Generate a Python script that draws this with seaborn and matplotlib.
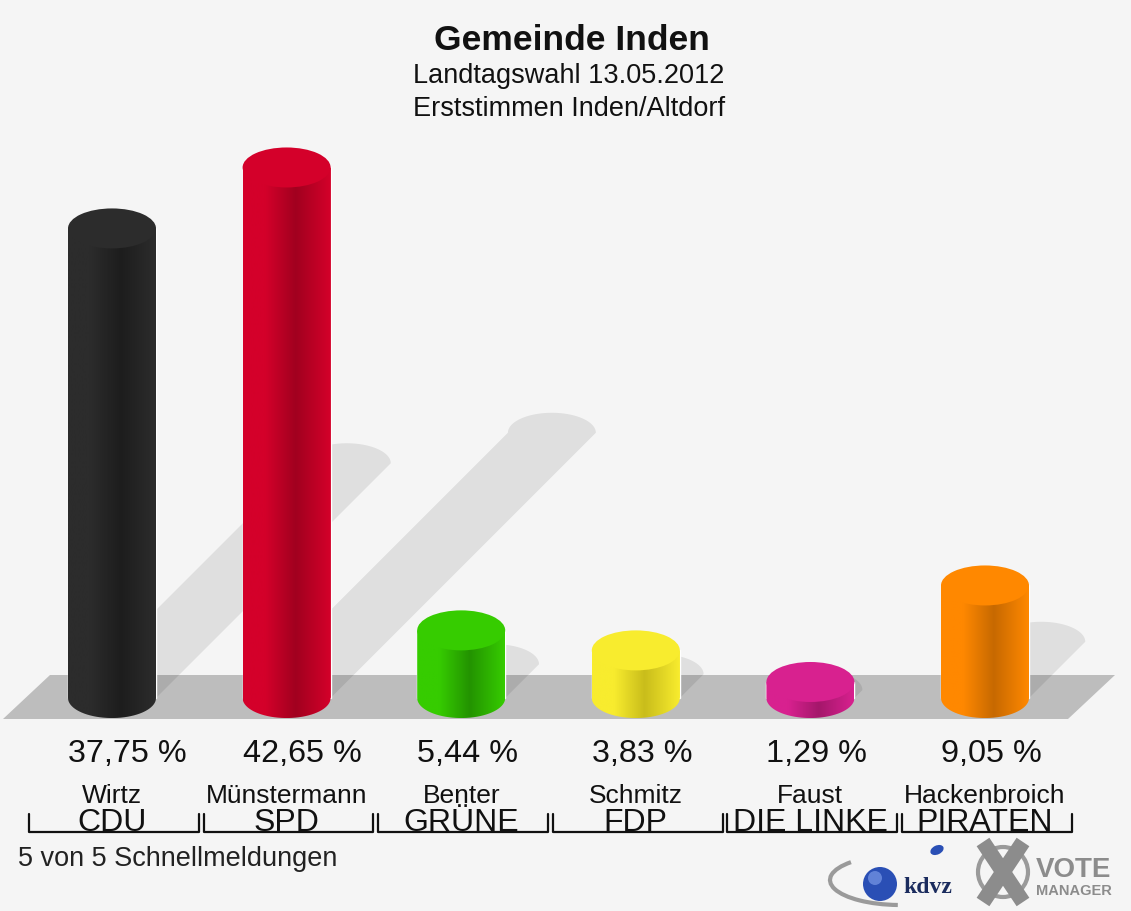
import matplotlib
matplotlib.use("Agg")
import matplotlib.pyplot as plt
import matplotlib.transforms as mtransforms
import numpy as np
import seaborn as sns
from matplotlib.colors import LinearSegmentedColormap
from matplotlib.patches import Polygon, Ellipse, PathPatch, Circle, Arc
from matplotlib.path import Path

# data
parties = ["CDU", "SPD", "GRÜNE", "FDP", "DIE LINKE", "PIRATEN"]
candidates = ["Wirtz", "Münstermann", "Benter", "Schmitz", "Faust", "Hackenbroich"]
shares = [37.75, 42.65, 5.44, 3.83, 1.29, 9.05]
colors = ["#2c2c2c", "#d4002a", "#36cc00", "#f8ec2e", "#d8218f", "#ff8800"]
shades = ["#1d1d1d", "#a1001f", "#239300", "#c9bd1b", "#a4176b", "#c76900"]

title = "Gemeinde Inden"
subtitle = ["Landtagswahl 13.05.2012", "Erststimmen Inden/Altdorf"]
footer = "5 von 5 Schnellmeldungen"

sns.set_theme(style="white")
plt.rcParams['font.family'] = ['Liberation Sans', 'DejaVu Sans']

W, H = 1131, 911
bg_color = "#f5f5f5"
fig = plt.figure(figsize=(W / 100, H / 100), dpi=100, facecolor=bg_color)

# background layer in pixel coordinates (floor, texts, logo)
bg = fig.add_axes([0, 0, 1, 1], zorder=0)
bg.set_xlim(0, W)
bg.set_ylim(H, 0)
bg.axis("off")
bg.add_patch(Polygon([(3, 719), (50, 675), (1115, 675), (1068, 719)], closed=True,
                     facecolor="#bdbdbd", edgecolor="none"))

# chart layer
ymin, ymax = -4, 46
ax = fig.add_axes([24.7 / W, 1 - 747.8 / H, 1047.6 / W, 622 / H], zorder=1)
ax.patch.set_alpha(0)
sns.barplot(x=parties, y=shares, hue=parties, palette=colors, legend=False,
            width=0.504, saturation=1, ax=ax, zorder=2)
ax.set_xlim(-0.5, len(parties) - 0.5)
ax.set_ylim(ymin, ymax)
ax.axis("off")

px_x = 1047.6 / len(parties)
px_y = 622 / (ymax - ymin)
r = 20 / px_y  # cap half height in data units

t_top = np.linspace(0, np.pi, 40)
t_bot = np.linspace(np.pi, 2 * np.pi, 40)

trans = mtransforms.blended_transform_factory(ax.transData, bg.transData)

for p, base, dark, val in zip(ax.patches, colors, shades, shares):
    x0, w, h = p.get_x(), p.get_width(), p.get_height()
    cx = x0 + w / 2

    # shadow stripe going up-right
    sh = h / 2
    d = sh * px_y / px_x
    arc = np.column_stack([cx + d + w / 2 * np.cos(t_top), sh + r * np.sin(t_top)])
    pts = np.vstack([[x0, 0], [x0 + w, 0], arc, [x0 + d, sh]])
    ax.add_patch(Polygon(pts, closed=True, facecolor="black", alpha=0.085,
                         edgecolor="none", zorder=1, clip_on=False))

    # cylinder body with shading
    bottom = np.column_stack([cx + w / 2 * np.cos(t_bot), r * np.sin(t_bot)])
    body = np.vstack([[x0, h], [x0, 0], bottom, [x0 + w, h], [x0, h]])
    clip = PathPatch(Path(body), transform=ax.transData, facecolor="none", edgecolor="none")
    ax.add_patch(clip)
    cmap = LinearSegmentedColormap.from_list("c", [(0, base), (0.25, base), (0.6, dark), (1, base)])
    im = ax.imshow(np.linspace(0, 1, 200)[None, :], extent=(x0, x0 + w, -r, h),
                   aspect="auto", cmap=cmap, zorder=3, interpolation="bilinear")
    im.set_clip_path(clip)

    # top cap
    ax.add_patch(Ellipse((cx, h), w, 2 * r, facecolor=base, edgecolor="none", zorder=4))

    # value label, aligned with the bar's left edge
    lab = f"{val:.2f} %".replace(".", ",")
    bg.text(x0, 762, lab, transform=trans, ha="left", va="baseline",
            fontsize=23.3, color="#111111")

ax.set_xlim(-0.5, len(parties) - 0.5)
ax.set_ylim(ymin, ymax)

# names and party brackets
for i, (party, cand) in enumerate(zip(parties, candidates)):
    bg.text(i, 803, cand, transform=trans, ha="center", va="baseline",
            fontsize=19, color="#111111")
    bg.text(i, 831, party, transform=trans, ha="center", va="baseline",
            fontsize=23, color="#111111")
    bg.plot([i - 0.475, i - 0.475, i + 0.497, i + 0.497], [814, 832, 832, 814],
            transform=trans, color="#111111", lw=1.6, clip_on=False)

# titles
bg.text(572, 50, title, ha="center", va="baseline", fontsize=25.5, fontweight="bold", color="#111111")
bg.text(569, 83, subtitle[0], ha="center", va="baseline", fontsize=19.5, color="#111111")
bg.text(569, 116, subtitle[1], ha="center", va="baseline", fontsize=19.5, color="#111111")
bg.text(18, 866, footer, ha="left", va="baseline", fontsize=19.5, color="#222222")

# logo
bg.add_patch(Arc((900, 880), 140, 50, theta1=95, theta2=200, color="#9a9a9a", lw=3))
bg.add_patch(Ellipse((937, 850), 14, 9, angle=-25, facecolor="#2a4fb5", edgecolor="none"))
bg.add_patch(Circle((880, 884), 17, facecolor="#2a4fb5", edgecolor="none"))
bg.add_patch(Circle((875, 878), 7, facecolor="#6f8fe0", edgecolor="none", alpha=0.8))
bg.text(903, 893, "kdvz", ha="left", va="baseline", fontsize=17, fontweight="bold",
        family=["Liberation Serif", "DejaVu Serif"], color="#1b2c5e")
bg.add_patch(Circle((1003, 872), 25, facecolor="none", edgecolor="#9a9a9a", lw=3))
bg.plot([983, 1023], [842, 902], color="#8c8c8c", lw=11, solid_capstyle="butt")
bg.plot([1023, 983], [842, 902], color="#8c8c8c", lw=11, solid_capstyle="butt")
bg.text(1036, 877, "VOTE", ha="left", va="baseline", fontsize=20, fontweight="bold", color="#8c8c8c")
bg.text(1036, 895, "MANAGER", ha="left", va="baseline", fontsize=10.5, fontweight="bold", color="#8c8c8c")

fig.savefig("out.png", dpi=100, facecolor=bg_color)
